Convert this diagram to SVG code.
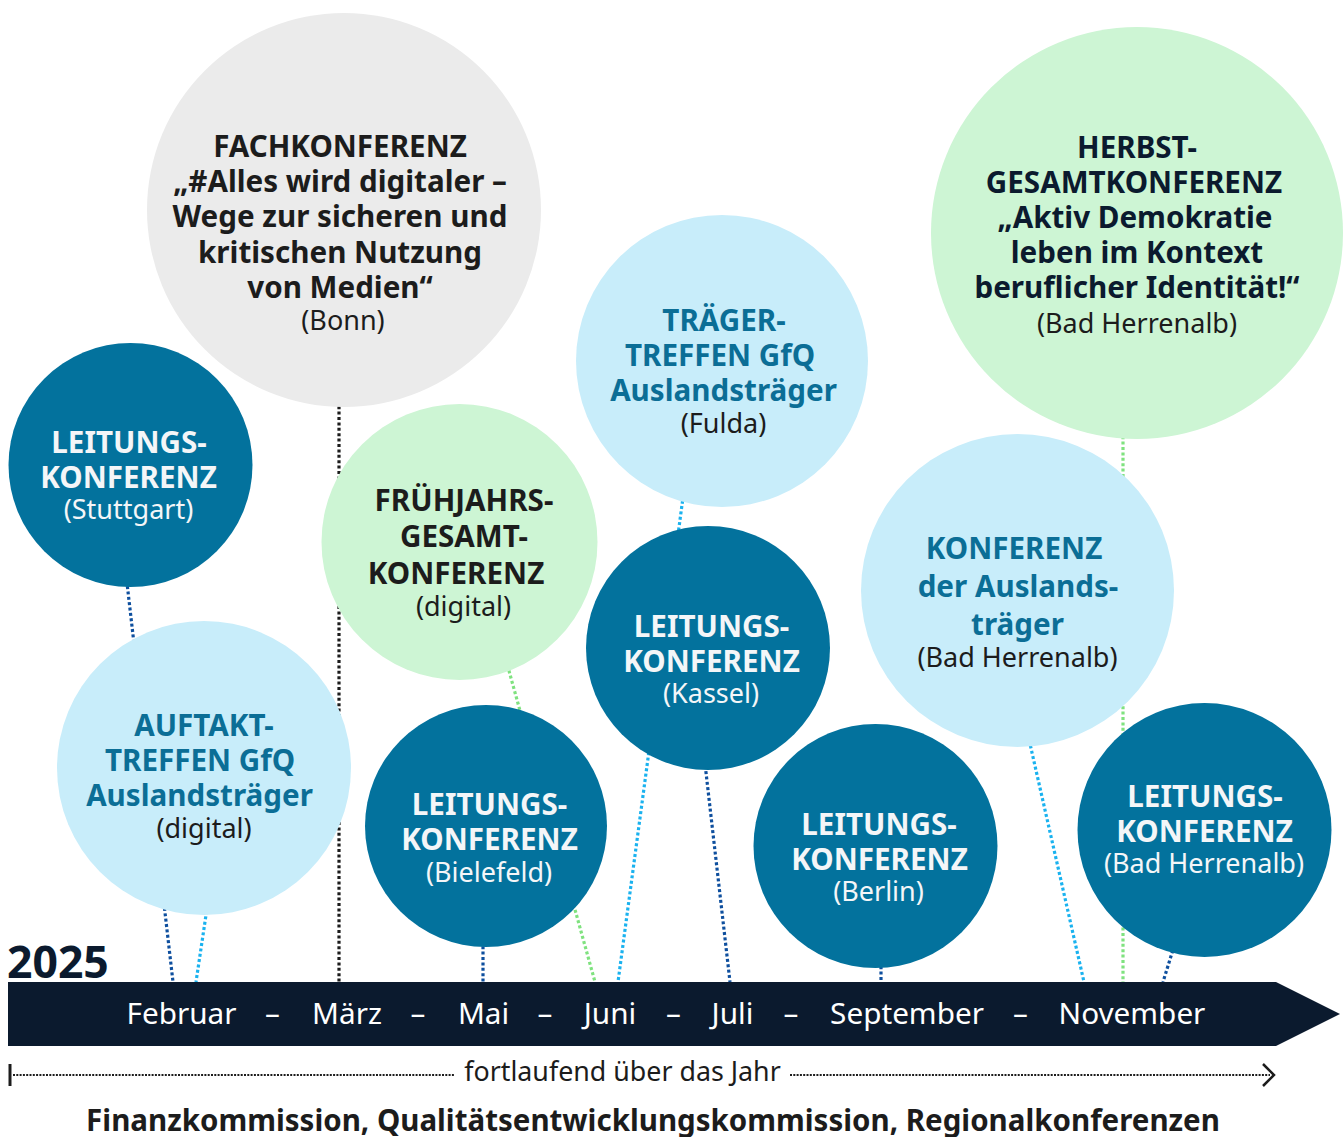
<svg xmlns="http://www.w3.org/2000/svg" width="1344" height="1137" viewBox="0 0 1344 1137">
<style>
text{font-family:"Noto Sans","Open Sans","Liberation Sans",sans-serif;text-anchor:middle}
.b{font-weight:700;font-size:29.6px}
.r{font-weight:400;font-size:27px}
.dk{fill:#1c1c1c}
.nv{fill:#0b1a2e}
.tl{fill:#0b6e96}
.wh{fill:#f4f6f8}
.c-teal{fill:#03729d}
.c-blue{fill:#c8edfa}
.c-green{fill:#cdf5d4}
.c-gray{fill:#ebebeb}
.ln{fill:none;stroke-width:3.2;stroke-dasharray:3 2.4}
.l-dark{stroke:#0e4f9e}
.l-light{stroke:#1ab2ef}
.l-green{stroke:#7fe27f}
.l-black{stroke:#1c1c1c}
.m{font-size:29.7px;fill:#ffffff}
</style>
<rect width="1344" height="1137" fill="#ffffff"/>
<g id="connectors">
<line class="ln l-dark" x1="125.5" y1="570" x2="173" y2="982"/>
<line class="ln l-light" x1="209" y1="895" x2="196" y2="982"/>
<line class="ln l-black" x1="339" y1="390" x2="339" y2="982"/>
<line class="ln l-green" x1="506" y1="660" x2="595" y2="982"/>
<line class="ln l-dark" x1="483" y1="930" x2="483" y2="982"/>
<line class="ln l-light" x1="684" y1="490" x2="618" y2="982"/>
<line class="ln l-dark" x1="704" y1="755" x2="730" y2="982"/>
<line class="ln l-dark" x1="881" y1="950" x2="881" y2="982"/>
<line class="ln l-green" x1="1123" y1="420" x2="1123" y2="982"/>
<line class="ln l-light" x1="1028" y1="735" x2="1084" y2="982"/>
<line class="ln l-dark" x1="1176" y1="940" x2="1163" y2="982"/>
</g>
<g id="n-fachkonferenz">
<circle class="c-gray" cx="344" cy="210" r="197"/>
<text class="b dk" x="340" y="157">FACHKONFERENZ</text>
<text class="b dk" x="340" y="192">„#Alles wird digitaler –</text>
<text class="b dk" x="340" y="227">Wege zur sicheren und</text>
<text class="b dk" x="340" y="263">kritischen Nutzung</text>
<text class="b dk" x="340" y="298">von Medien“</text>
<text class="r dk" x="343" y="330">(Bonn)</text>
</g>
<g id="n-herbst">
<circle class="c-green" cx="1137" cy="233" r="206"/>
<text class="b nv" x="1137" y="158">HERBST-</text>
<text class="b nv" x="1134" y="193">GESAMTKONFERENZ</text>
<text class="b nv" x="1135" y="228">„Aktiv Demokratie</text>
<text class="b nv" x="1137" y="263">leben im Kontext</text>
<text class="b nv" x="1137" y="298">beruflicher Identität!“</text>
<text class="r dk" x="1137" y="333">(Bad Herrenalb)</text>
</g>
<g id="n-traeger">
<circle class="c-blue" cx="722" cy="361" r="146"/>
<text class="b tl" x="724" y="331">TRÄGER-</text>
<text class="b tl" x="720" y="366">TREFFEN GfQ</text>
<text class="b tl" x="723.5" y="401">Auslandsträger</text>
<text class="r dk" x="723.5" y="433">(Fulda)</text>
</g>
<g id="n-leitung-stuttgart">
<circle class="c-teal" cx="130.5" cy="465" r="122"/>
<text class="b wh" x="129" y="453">LEITUNGS-</text>
<text class="b wh" x="128.5" y="488">KONFERENZ</text>
<text class="r wh" x="128.5" y="519">(Stuttgart)</text>
</g>
<g id="n-fruehjahr">
<circle class="c-green" cx="459.5" cy="542" r="138"/>
<text class="b dk" x="464" y="511">FRÜHJAHRS-</text>
<text class="b dk" x="464" y="547">GESAMT-</text>
<text class="b dk" x="456" y="584">KONFERENZ</text>
<text class="r dk" x="463.5" y="616">(digital)</text>
</g>
<g id="n-auslandstraeger">
<circle class="c-blue" cx="1017.5" cy="590.5" r="156.5"/>
<text class="b tl" x="1014" y="559">KONFERENZ</text>
<text class="b tl" x="1018" y="597">der Auslands-</text>
<text class="b tl" x="1017.5" y="635">träger</text>
<text class="r dk" x="1017.5" y="667">(Bad Herrenalb)</text>
</g>
<g id="n-leitung-kassel">
<circle class="c-teal" cx="708" cy="648" r="122"/>
<text class="b wh" x="711.5" y="637">LEITUNGS-</text>
<text class="b wh" x="711.5" y="672">KONFERENZ</text>
<text class="r wh" x="711" y="703">(Kassel)</text>
</g>
<g id="n-auftakt">
<circle class="c-blue" cx="204" cy="768" r="147"/>
<text class="b tl" x="204" y="736">AUFTAKT-</text>
<text class="b tl" x="200" y="771">TREFFEN GfQ</text>
<text class="b tl" x="199.5" y="806">Auslandsträger</text>
<text class="r dk" x="204" y="838">(digital)</text>
</g>
<g id="n-leitung-bielefeld">
<circle class="c-teal" cx="486" cy="826" r="121"/>
<text class="b wh" x="489.5" y="815">LEITUNGS-</text>
<text class="b wh" x="489.5" y="850">KONFERENZ</text>
<text class="r wh" x="489" y="882">(Bielefeld)</text>
</g>
<g id="n-leitung-berlin">
<circle class="c-teal" cx="875.5" cy="846" r="122"/>
<text class="b wh" x="879" y="835">LEITUNGS-</text>
<text class="b wh" x="879.5" y="870">KONFERENZ</text>
<text class="r wh" x="878.5" y="901">(Berlin)</text>
</g>
<g id="n-leitung-badherrenalb">
<circle class="c-teal" cx="1204.5" cy="830" r="127"/>
<text class="b wh" x="1205" y="807">LEITUNGS-</text>
<text class="b wh" x="1204.5" y="842">KONFERENZ</text>
<text class="r wh" x="1204" y="873">(Bad Herrenalb)</text>
</g>
<g id="timeline">
<text x="7" y="978" style="text-anchor:start;font-weight:700;font-size:44.5px;fill:#0b1a2e">2025</text>
<polygon points="8,982 1276,982 1340,1014 1276,1046 8,1046" fill="#0b1a2e"/>
<text class="m" x="181.5" y="1024">Februar</text>
<text class="m" x="272.5" y="1024">–</text>
<text class="m" x="347" y="1024">März</text>
<text class="m" x="418" y="1024">–</text>
<text class="m" x="483.5" y="1024">Mai</text>
<text class="m" x="545" y="1024">–</text>
<text class="m" x="610" y="1024">Juni</text>
<text class="m" x="673.5" y="1024">–</text>
<text class="m" x="732.5" y="1024">Juli</text>
<text class="m" x="791" y="1024">–</text>
<text class="m" x="907" y="1024">September</text>
<text class="m" x="1020.5" y="1024">–</text>
<text class="m" x="1132" y="1024">November</text>
</g>
<g id="continuous">
<line x1="10" y1="1064" x2="10" y2="1086" stroke="#1c1c1c" stroke-width="3"/>
<line x1="13" y1="1075" x2="455" y2="1075" stroke="#1c1c1c" stroke-width="2" stroke-dasharray="2 1.3"/>
<line x1="790" y1="1075" x2="1270" y2="1075" stroke="#1c1c1c" stroke-width="2" stroke-dasharray="2 1.3"/>
<polyline points="1263,1064 1274,1075 1263,1086" fill="none" stroke="#1c1c1c" stroke-width="2.5"/>
<text x="622.5" y="1081" style="font-size:26.8px;fill:#1c1c1c">fortlaufend über das Jahr</text>
<text x="653" y="1131" style="font-weight:700;font-size:29.5px;fill:#1c1c1c">Finanzkommission, Qualitätsentwicklungskommission, Regionalkonferenzen</text>
</g>
</svg>
